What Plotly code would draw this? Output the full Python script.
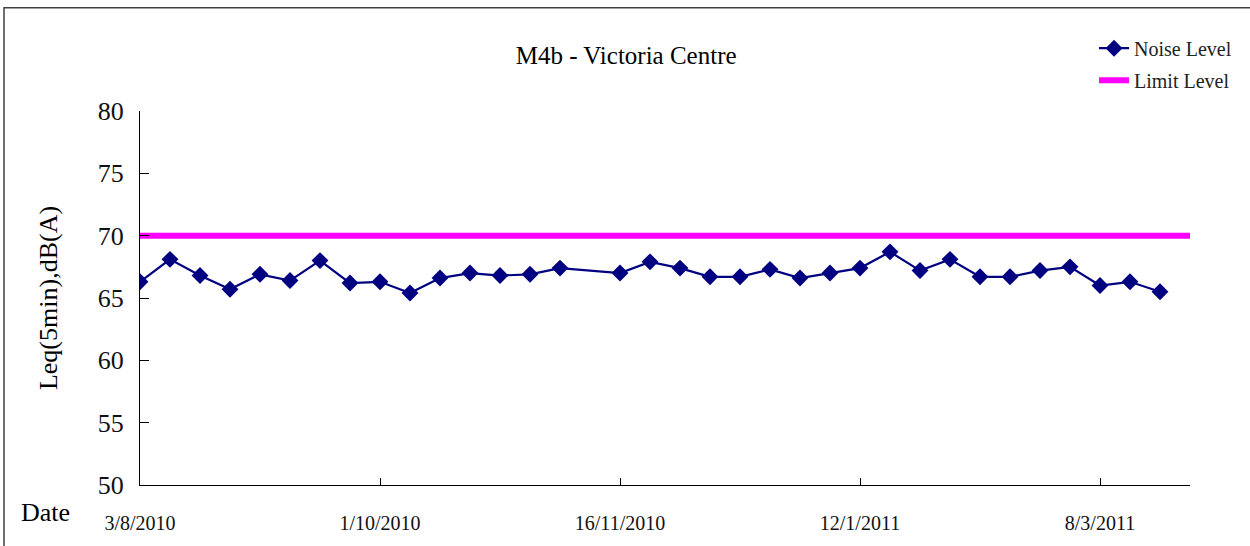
import plotly.graph_objects as go

# Category positions (one per monitoring event); tick labels every 8 events
tick_positions = [0, 8, 16, 24, 32]
tick_labels = ["3/8/2010", "1/10/2010", "16/11/2010", "12/1/2011", "8/3/2011"]

categories = list(range(36))
noise_level = [66.3, 68.1, 66.8, 65.7, 66.9, 66.4, 68.0, 66.2, 66.3, 65.4,
               66.6, 67.0, 66.8, 66.9, 67.4, None, 67.0, 67.9, 67.4, 66.7,
               66.7, 67.3, 66.6, 67.0, 67.4, 68.7, 67.2, 68.1, 66.7, 66.7,
               67.2, 67.5, 66.0, 66.3, 65.5, None]
limit_level = [70] * 36

FONT = "Liberation Serif"

fig = go.Figure()
fig.add_trace(go.Scatter(
    x=categories, y=noise_level, name="Noise Level", mode="lines+markers",
    connectgaps=True, legendgroup="a",
    line=dict(color="#000080", width=2.2),
    marker=dict(symbol="diamond", size=13, color="#000080"),
))
fig.add_trace(go.Scatter(
    x=categories, y=limit_level, name="Limit Level", mode="lines",
    legendgroup="b",
    line=dict(color="#FF00FF", width=6),
))

fig.update_layout(
    width=1250, height=546,
    margin=dict(l=140, r=60, t=111, b=58),
    paper_bgcolor="white", plot_bgcolor="white",
    font=dict(family=FONT, color="#111111"),
    title=dict(text="M4b - Victoria Centre", x=0.463, xref="paper", xanchor="center",
               y=1 - 55 / 546, yanchor="middle", font=dict(family=FONT, size=25, color="#000000")),
    legend=dict(x=0.9086, y=1.22, xanchor="left", yanchor="top",
                font=dict(family=FONT, size=20, color="#222222"),
                bgcolor="rgba(0,0,0,0)", tracegroupgap=3, traceorder="grouped"),
    showlegend=True,
    xaxis=dict(range=[0, 35], tickmode="array", tickvals=tick_positions, ticktext=tick_labels,
               showgrid=False, zeroline=False, showline=True, linecolor="#000000", linewidth=1.2,
               ticks="inside", ticklen=7, tickcolor="#000000", tickwidth=1,
               ticklabelstandoff=20,
               tickfont=dict(family=FONT, size=20, color="#111111")),
    yaxis=dict(range=[50, 80], dtick=5, tick0=50,
               showgrid=False, zeroline=False, showline=True, linecolor="#000000", linewidth=1.2,
               ticks="inside", ticklen=9, tickcolor="#000000", tickwidth=1,
               ticklabelstandoff=10,
               tickfont=dict(family=FONT, size=26, color="#111111"),
               title=dict(text="Leq(5min),dB(A)", standoff=32,
                          font=dict(family=FONT, size=26, color="#000000"))),
    shapes=[dict(type="rect", xref="paper", yref="paper",
                 x0=(4 - 140) / 1050, x1=(1256 - 140) / 1050,
                 y0=(488 - 552) / 377, y1=(488 - 7) / 377,
                 line=dict(color="#404040", width=1.5), fillcolor="rgba(0,0,0,0)", layer="below")],
    annotations=[dict(text="Date", xref="paper", yref="paper",
                      x=(45 - 140) / 1050, y=(488 - 516) / 377,
                      xanchor="center", yanchor="middle", showarrow=False,
                      font=dict(family=FONT, size=26, color="#000000"))],
)

fig.write_html("out.html", config={"displayModeBar": False},
               post_script="document.body.style.margin='0';")
